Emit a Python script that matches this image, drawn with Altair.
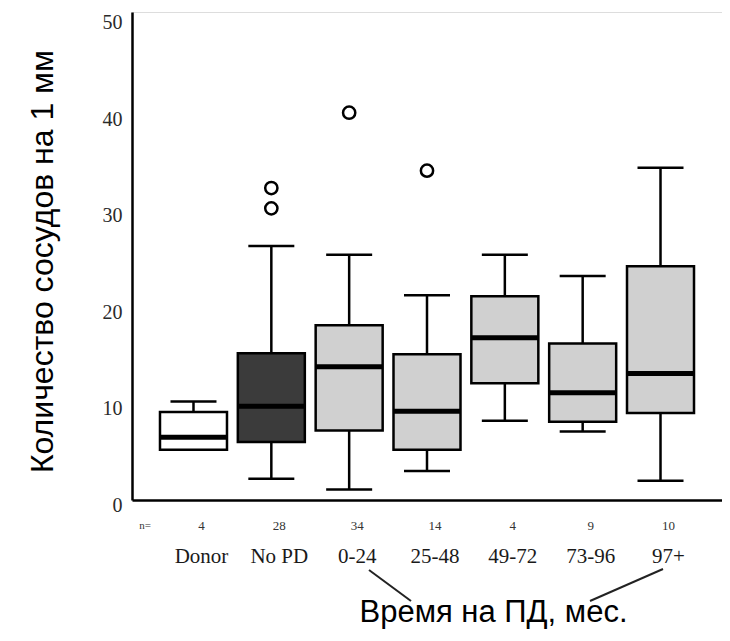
import altair as alt
import pandas as pd

# ---- data ----
categories = ["Donor", "No PD", "0-24", "25-48", "49-72", "73-96", "97+"]
n_counts = [4, 28, 34, 14, 4, 9, 10]
whisker_low = [5.2, 2.2, 1.1, 3.0, 8.2, 7.1, 2.0]
q1 = [5.2, 6.0, 7.2, 5.2, 12.1, 8.1, 9.0]
median = [6.5, 9.7, 13.8, 9.2, 16.8, 11.1, 13.1]
q3 = [9.1, 15.2, 18.1, 15.1, 21.1, 16.2, 24.2]
whisker_high = [10.2, 26.3, 25.4, 21.2, 25.4, 23.2, 34.4]
fill_group = ["white", "dark", "light", "light", "light", "light", "light"]

outlier_cat = ["No PD", "No PD", "0-24", "25-48"]
outlier_val = [32.3, 30.2, 40.1, 34.1]

y_ticks = [0, 10, 20, 30, 40, 50]

box_df = pd.DataFrame({
    "cat": categories, "n": [str(v) for v in n_counts],
    "low": whisker_low, "q1": q1, "med": median, "q3": q3,
    "high": whisker_high, "fill": fill_group,
})
out_df = pd.DataFrame({"cat": outlier_cat, "val": outlier_val})

W, H = 590, 488
serif = "Liberation Serif"
sans = "Liberation Sans"

x_enc = alt.X(
    "cat:N", sort=categories,
    scale=alt.Scale(domain=categories, paddingInner=0, paddingOuter=0.29),
    axis=alt.Axis(
        title="Время на ПД, мес.", titleFont=sans, titleFontSize=31,
        titleFontWeight="normal", titleColor="black",
        titleX=361, titleY=121, titleBaseline="alphabetic", titleAlign="center",
        labelFont=serif, labelFontSize=21, labelColor="#1a1a1a",
        labelAngle=0, labelOffset=8, labelPadding=62, labelBaseline="alphabetic",
        ticks=False, tickSize=0, domainColor="black", domainWidth=2.5, grid=False,
    ),
)
y_scale = alt.Scale(domain=[0, 50.53], nice=False, zero=False)
y_axis = alt.Axis(
    values=y_ticks, title="Количество сосудов на 1 мм", titleFont=sans,
    titleFontSize=32, titleFontWeight="normal", titleColor="black",
    titleX=-80, titleY=249, titleBaseline="alphabetic", titleAlign="center",
    labelFont=serif, labelFontSize=20, labelColor="#2a2a2a", labelPadding=10,
    labelOffset=5.5,
    ticks=False, tickSize=0, domainColor="black", domainWidth=2.5, grid=False,
)

base = alt.Chart(box_df)

whisk = base.mark_rule(color="black", strokeWidth=2.5).encode(
    x=x_enc, y=alt.Y("low:Q", scale=y_scale, axis=y_axis), y2="high:Q")
cap_lo = base.mark_tick(color="black", size=46, thickness=2.5, opacity=1).encode(
    x=alt.X("cat:N", sort=categories), y="low:Q")
cap_hi = base.mark_tick(color="black", size=46, thickness=2.5, opacity=1).encode(
    x=alt.X("cat:N", sort=categories), y="high:Q")
box = base.mark_bar(width=67, stroke="black", strokeWidth=2.5, opacity=1).encode(
    x=alt.X("cat:N", sort=categories), y="q1:Q", y2="q3:Q",
    color=alt.Color("fill:N", scale=alt.Scale(domain=["white", "dark", "light"],
                                              range=["#ffffff", "#3b3b3b", "#d0d0d0"]),
                    legend=None))
med = base.mark_tick(color="black", size=67, thickness=5, opacity=1).encode(
    x=alt.X("cat:N", sort=categories), y="med:Q")
outl = alt.Chart(out_df).mark_point(shape="circle", filled=False, size=150, opacity=1,
                                    color="black", strokeWidth=2.5).encode(
    x=alt.X("cat:N", sort=categories), y="val:Q")
ntext = base.mark_text(font=serif, fontSize=13, color="#333", dx=8,
                       baseline="middle").encode(
    x=alt.X("cat:N", sort=categories), y=alt.value(514), text="n:N")

one = pd.DataFrame({"k": [0]})
n_label = alt.Chart(one).mark_text(font=serif, fontSize=11, color="#333",
                                   baseline="middle", text="n=").encode(
    x=alt.value(13), y=alt.value(514))
line1 = alt.Chart(one).mark_rule(color="#222", strokeWidth=2).encode(
    x=alt.value(237), x2=alt.value(279), y=alt.value(558), y2=alt.value(589))
line2 = alt.Chart(one).mark_rule(color="#222", strokeWidth=2).encode(
    x=alt.value(531), x2=alt.value(458), y=alt.value(557), y2=alt.value(589))

chart = alt.layer(whisk, cap_lo, cap_hi, box, med, outl, ntext, n_label, line1, line2).properties(
    width=W, height=H,
    autosize=alt.AutoSizeParams(type="none"),
    padding={"left": 124, "top": 4, "right": 0, "bottom": 133},
).configure_view(stroke=None).configure(background="white")

chart.save("out.html", embed_options={"renderer": "svg", "actions": False})
